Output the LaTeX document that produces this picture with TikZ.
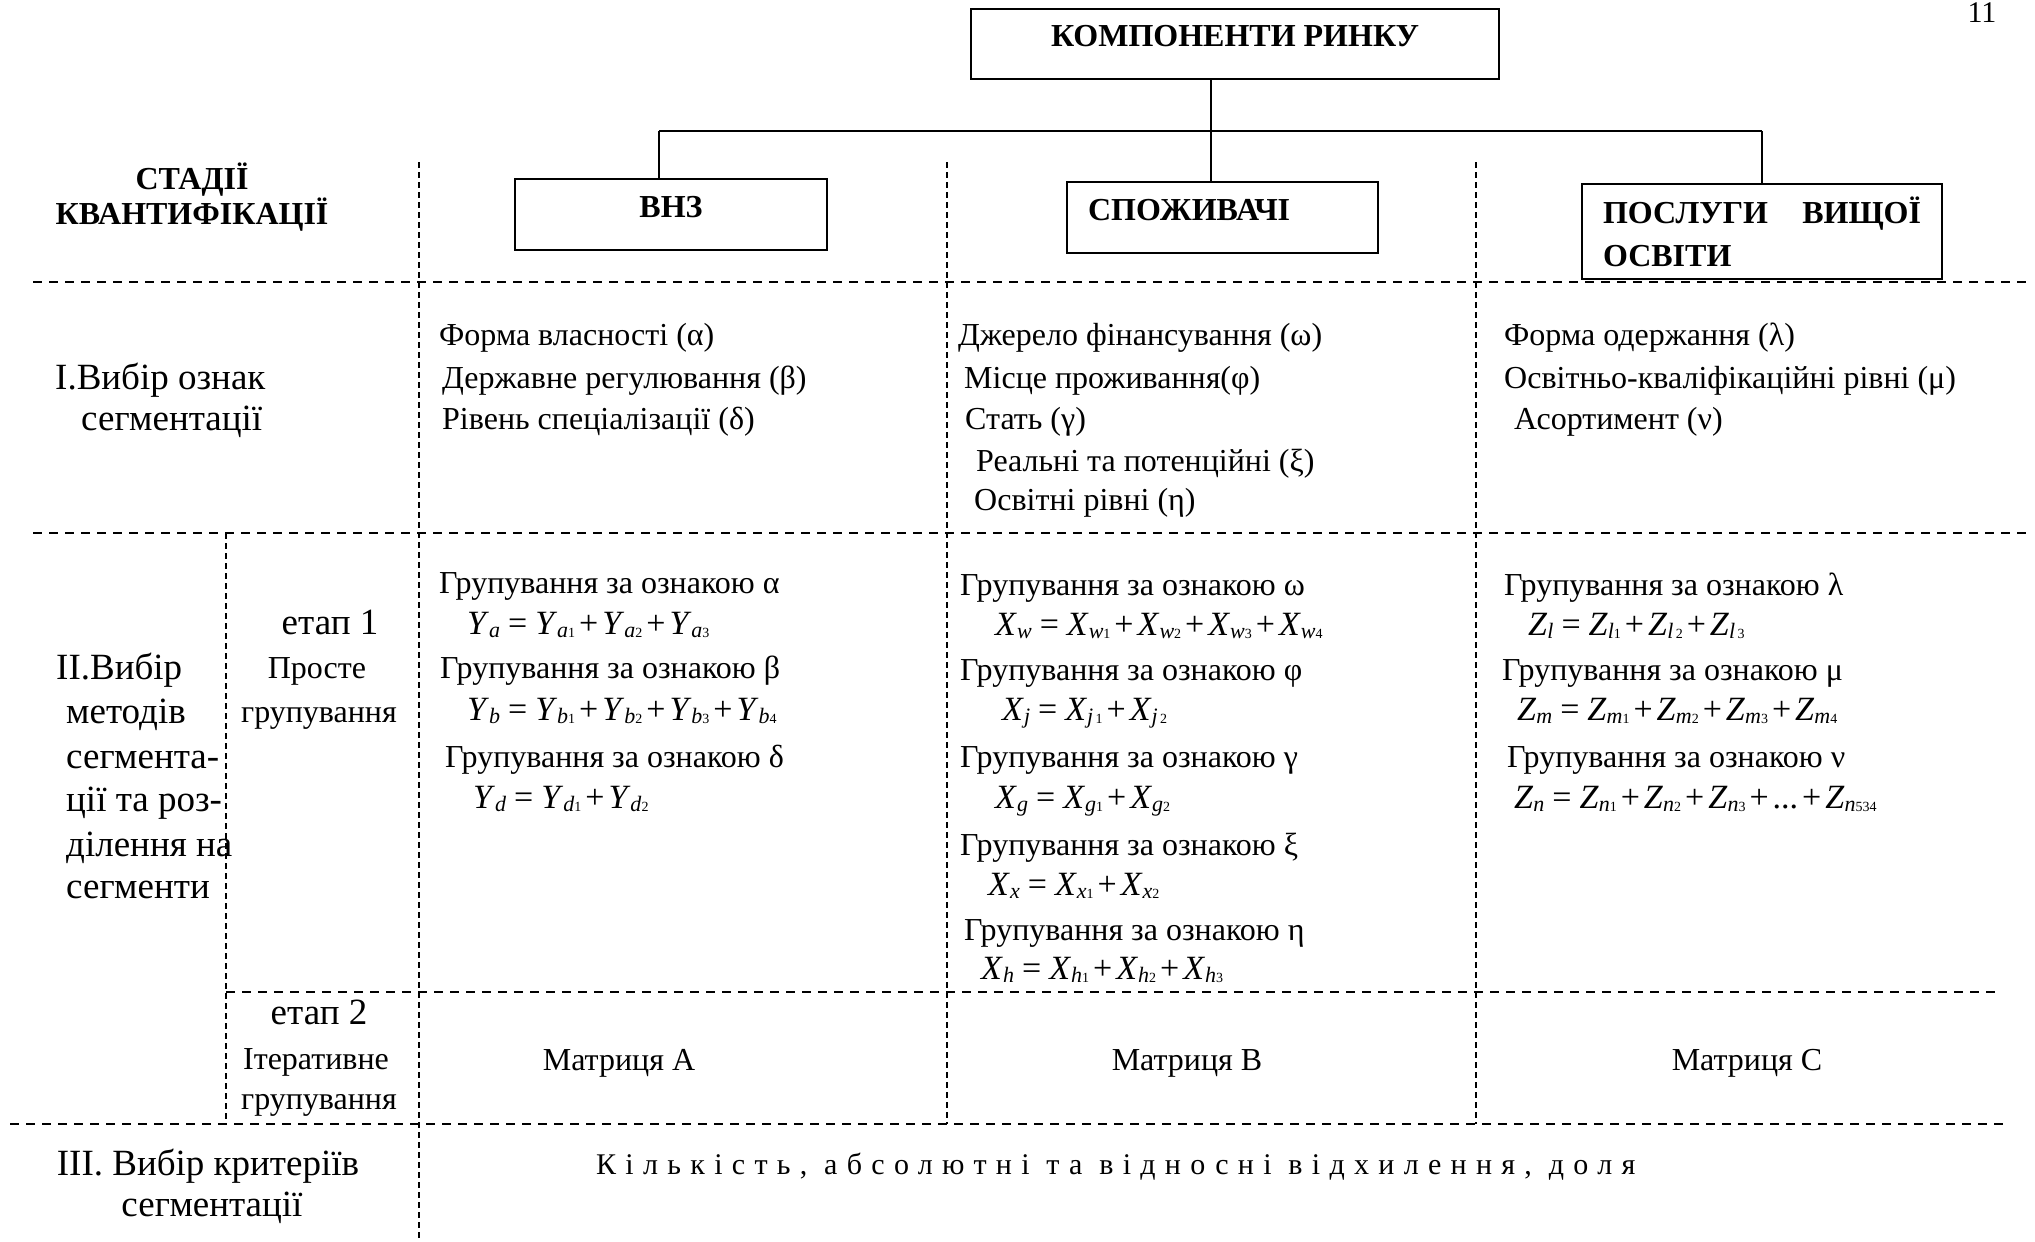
\documentclass[tikz,border=0pt]{standalone}
\usepackage{fontspec}
\setmainfont{Liberation Serif}
\newcommand\fv[3]{\textit{#1}\raisebox{-3pt}{\fontsize{22}{22}\selectfont\textit{#2}\fontsize{14}{14}\selectfont #3}}
\newcommand\eqs{\hspace{8pt}=\hspace{8pt}}
\newcommand\pls{\hspace{4pt}+\hspace{4pt}}
\tikzset{
  txt/.style={inner sep=0pt, text height=20pt, text depth=0pt, font=\fontsize{32}{38}\selectfont},
  lt/.style={txt, anchor=west},
  big/.style={font=\fontsize{37}{42}\selectfont, text height=23pt},
  frm/.style={lt, font=\fontsize{34}{40}\selectfont},
  hdr/.style={inner sep=0pt, text height=20pt, text depth=0pt, font=\fontsize{32}{36}\selectfont\bfseries},
  boxn/.style={draw, line width=2.5pt, inner sep=0pt, font=\fontsize{32}{43}\selectfont\bfseries},
  hd/.style={line width=2pt, dash pattern=on 9pt off 7pt},
  vd/.style={line width=2pt, dash pattern=on 6pt off 4pt},
  link/.style={line width=2pt}
}
\begin{document}
\begin{tikzpicture}[x=1pt,y=-1pt]
\useasboundingbox (0,0) rectangle (2035,1242);
% boxes
\node[boxn, minimum width=528pt, minimum height=70pt, text height=20pt, text depth=16pt] (top) at (1235,44) {КОМПОНЕНТИ РИНКУ};
\node[boxn, minimum width=312pt, minimum height=71pt, text height=20pt, text depth=14pt] (vnz) at (671,214.5) {ВНЗ};
\node[boxn, minimum width=311pt, minimum height=71pt, text height=20pt, text depth=14pt, text width=269pt, align=left] (spo) at (1222.5,217.5) {СПОЖИВАЧІ};
\node[boxn, minimum width=360pt, minimum height=95pt] (pos) at (1762,231.5) {\parbox{318pt}{ПОСЛУГИ\hfill ВИЩОЇ\\ОСВІТИ}};
\node[inner sep=0pt, font=\fontsize{30}{34}\selectfont] (pg) at (1982,13) {11};
% connectors
\coordinate (busL) at (659,131);
\coordinate (busM) at (1211,131);
\coordinate (busR) at (1762,131);
\draw[link] (busM |- top.south) -- (busM);
\draw[link] (busL) -- (busR);
\draw[link] (busL) -- (busL |- vnz.north);
\draw[link] (busM) -- (busM |- spo.north);
\draw[link] (busR) -- (busR |- pos.north);
% grid
\draw[hd] (33,282) -- (2031,282);
\draw[hd] (33,533) -- (2031,533);
\draw[hd] (226,992) -- (1998,992);
\draw[hd] (10,1124) -- (2005,1124);
\draw[vd] (419,162) -- (419,1242);
\draw[vd] (947,162) -- (947,1124);
\draw[vd] (1476,162) -- (1476,1124);
\draw[vd] (226,533) -- (226,1124);
% stage headers
\node[hdr] (s1) at (192,179) {СТАДІЇ};
\node[hdr] (s2) at (192,214) {КВАНТИФІКАЦІЇ};
% row I
\node[lt, big] (i1) at (55,378) {I.Вибір ознак};
\node[lt, big] (i2) at (81,419) {сегментації};
\node[lt] (a1) at (439,335) {Форма власності (α)};
\node[lt] (a2) at (442,378) {Державне регулювання (β)};
\node[lt] (a3) at (442,419) {Рівень спеціалізації (δ)};
\node[lt] (b1) at (958,335) {Джерело фінансування (ω)};
\node[lt] (b2) at (964,378) {Місце проживання(φ)};
\node[lt] (b3) at (965,419) {Стать (γ)};
\node[lt] (b4) at (976,461) {Реальні та потенційні (ξ)};
\node[lt] (b5) at (974,500) {Освітні рівні (η)};
\node[lt] (c1) at (1504,335) {Форма одержання (λ)};
\node[lt] (c2) at (1504,378) {Освітньо-кваліфікаційні рівні (μ)};
\node[lt] (c3) at (1514,419) {Асортимент (ν)};
% row II labels
\node[lt, big] (ii1) at (56,668) {II.Вибір};
\node[lt, big] (ii2) at (66,712) {методів};
\node[lt, big] (ii3) at (66,757) {сегмента-};
\node[lt, big] (ii4) at (66,800) {ції та роз-};
\node[lt, big] (ii5) at (66,845) {ділення на};
\node[lt, big] (ii6) at (66,887) {сегменти};
\node[txt, big] (e1a) at (330,623) {етап 1};
\node[txt] (e1b) at (317,668) {Просте};
\node[txt] (e1c) at (319,712) {групування};
% column A
\node[lt] (ga1) at (439,583) {Групування за ознакою α};
\node[frm] (fa1) at (467,624) {\fv{Y}{a}{}\eqs\fv{Y}{a}{1}\pls\fv{Y}{a}{2}\pls\fv{Y}{a}{3}};
\node[lt] (ga2) at (440,668) {Групування за ознакою β};
\node[frm] (fa2) at (467,710) {\fv{Y}{b}{}\eqs\fv{Y}{b}{1}\pls\fv{Y}{b}{2}\pls\fv{Y}{b}{3}\pls\fv{Y}{b}{4}};
\node[lt] (ga3) at (445,757) {Групування за ознакою δ};
\node[frm] (fa3) at (473,798) {\fv{Y}{d}{}\eqs\fv{Y}{d}{1}\pls\fv{Y}{d}{2}};
% column B
\node[lt] (gb1) at (960,585) {Групування за ознакою ω};
\node[frm] (fb1) at (995,625) {\fv{X}{w}{}\eqs\fv{X}{w}{1}\pls\fv{X}{w}{2}\pls\fv{X}{w}{3}\pls\fv{X}{w}{4}};
\node[lt] (gb2) at (960,670) {Групування за ознакою φ};
\node[frm] (fb2) at (1002,710) {\fv{X}{j}{}\eqs\fv{X}{j}{\,1}\pls\fv{X}{j}{\,2}};
\node[lt] (gb3) at (960,757) {Групування за ознакою γ};
\node[frm] (fb3) at (995,798) {\fv{X}{g}{}\eqs\fv{X}{g}{1}\pls\fv{X}{g}{2}};
\node[lt] (gb4) at (960,845) {Групування за ознакою ξ};
\node[frm] (fb4) at (988,885) {\fv{X}{x}{}\eqs\fv{X}{x}{1}\pls\fv{X}{x}{2}};
\node[lt] (gb5) at (964,930) {Групування за ознакою η};
\node[frm] (fb5) at (981,969) {\fv{X}{h}{}\eqs\fv{X}{h}{1}\pls\fv{X}{h}{2}\pls\fv{X}{h}{3}};
% column C
\node[lt] (gc1) at (1504,585) {Групування за ознакою λ};
\node[frm] (fc1) at (1528,625) {\fv{Z}{l}{}\eqs\fv{Z}{l}{1}\pls\fv{Z}{l}{\,2}\pls\fv{Z}{l}{\,3}};
\node[lt] (gc2) at (1502,670) {Групування за ознакою μ};
\node[frm] (fc2) at (1517,710) {\fv{Z}{m}{}\eqs\fv{Z}{m}{1}\pls\fv{Z}{m}{2}\pls\fv{Z}{m}{3}\pls\fv{Z}{m}{4}};
\node[lt] (gc3) at (1507,757) {Групування за ознакою ν};
\node[frm] (fc3) at (1514,798) {\fv{Z}{n}{}\eqs\fv{Z}{n}{1}\pls\fv{Z}{n}{2}\pls\fv{Z}{n}{3}\pls...\pls\fv{Z}{n}{534}};
% etap 2
\node[txt, big] (e2a) at (319,1013) {етап 2};
\node[txt] (e2b) at (316,1059) {Ітеративне};
\node[txt] (e2c) at (319,1099) {групування};
\node[txt] (ma) at (619,1060) {Матриця А};
\node[txt] (mb) at (1187,1060) {Матриця В};
\node[txt] (mc) at (1747,1060) {Матриця С};
% row III
\node[txt, big] (iii1) at (208,1164) {III. Вибір критеріїв};
\node[txt, big] (iii2) at (212,1205) {сегментації};
\node[lt, font=\fontsize{30}{36}\selectfont\addfontfeatures{LetterSpace=31}] (crit) at (596,1164) {Кількість, абсолютні та відносні відхилення, доля};
\end{tikzpicture}
\end{document}
